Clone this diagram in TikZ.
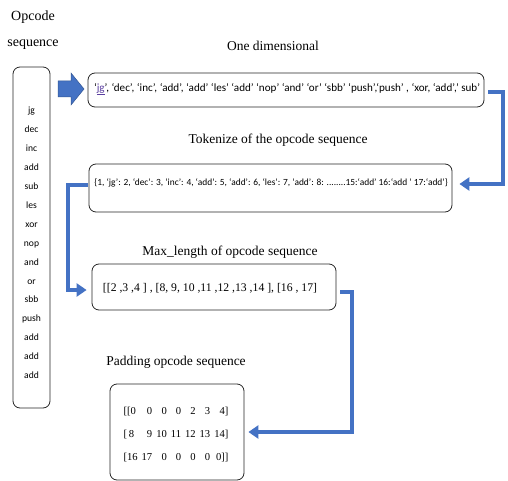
\documentclass[tikz,border=0pt]{standalone}
\usepackage{fontspec}
\setmainfont{Liberation Serif}
\newfontfamily\boxsans{Carlito}
\usetikzlibrary{arrows.meta}
\definecolor{myblue}{HTML}{4472C4}
\definecolor{jgcol}{HTML}{5B3FA0}
\begin{document}
\begin{tikzpicture}[x=1pt,y=-1pt,
  box/.style={draw=black!85, line width=0.8pt, rounded corners=7pt, inner sep=0pt},
  conn/.style={draw=myblue, line width=3.6pt, line join=miter, -{Triangle[length=10pt,width=13pt]}},
  ttl/.style={font=\fontsize{13.5}{15}\selectfont, inner sep=0pt},
  ctext/.style={font=\boxsans\fontsize{11.1}{13}\selectfont, inner sep=0pt},
  stext/.style={font=\fontsize{11.7}{14}\selectfont, inner sep=0pt},
  blockarrow/.style={fill=myblue, draw=myblue!75!black, line width=0.5pt, line join=miter}]
\useasboundingbox (0,0) rectangle (508,481);

% left column
\node[ttl, align=center, font=\fontsize{14}{26}\selectfont] (t0) at (33,30) {Opcode\\sequence};
\node[box, minimum width=37pt, minimum height=341pt] (b0) at (31.5,237.5) {};
\node[inner sep=0pt, align=center, font=\boxsans\fontsize{9.6}{18.9}\selectfont] (l0) at (31.5,243)
  {jg\\dec\\inc\\add\\sub\\les\\xor\\nop\\and\\or\\sbb\\push\\add\\add\\add};

% block arrow
\coordinate (ba) at (58,89);
\path[blockarrow] (ba) -- ++(0,-8) -- ++(13,0) -- ++(0,-8) -- ++(13,16) -- ++(-13,16) -- ++(0,-8) -- ++(-13,0) -- cycle;

% box 1
\node[ttl] (t1) at (273,46) {One dimensional};
\node[box, minimum width=396pt, minimum height=34pt] (b1) at (286,90) {};
\node[ctext] (x1) at (287,89) {‘\textcolor{jgcol}{\underline{jg}}’, ‘dec’, ‘inc’, ‘add’, ‘add’ ‘les’ ‘add’ ‘nop’ ‘and’ ‘or’ ‘sbb’ ‘push’,‘push’ , ‘xor, ‘add’,’ sub’};

% box 2
\node[ttl] (t2) at (278,140) {Tokenize of the opcode sequence};
\node[box, minimum width=363pt, minimum height=48pt] (b2) at (270.5,188) {};
\node[ctext, font=\boxsans\fontsize{9.4}{11}\selectfont] (x2) at (271,183) {\{1, ‘jg’: 2, ‘dec’: 3, ‘inc’: 4, ‘add’: 5, ‘add’: 6, ‘les’: 7, ‘add’: 8: ........15:‘add’ 16:‘add ’ 17:‘add’\}};

% box 3
\node[ttl] (t3) at (230,252) {Max\_length of opcode sequence};
\node[box, minimum width=244pt, minimum height=46pt] (b3) at (214,287) {};
\node[stext] (x3) at (210,288) {[[2 ,3 ,4 ] , [8, 9, 10 ,11 ,12 ,13 ,14 ], [16 , 17]};

% box 4
\node[ttl] (t4) at (176,362) {Padding opcode sequence};
\node[box, minimum width=134pt, minimum height=96pt] (b4) at (177,432) {};
\node[inner sep=0pt, font=\fontsize{10.6}{23}\selectfont] (x4) at (176,433) {%
  \setlength\tabcolsep{2pt}%
  \begin{tabular}{@{}l*{6}{r}@{}}
  {[[}0 & 0 & 0 & 0 & 2 & 3 & 4]\\
  {[}\,8 & 9 & 10 & 11 & 12 & 13 & 14]\\
  {[}16 & 17 & 0 & 0 & 0 & 0 & 0]]
  \end{tabular}};

% connectors
\coordinate (k1) at (503,0);
\coordinate (k2) at (68,0);
\coordinate (k3) at (352,0);
\coordinate (s1) at ([xshift=4pt,yshift=-2pt]b1.east);
\coordinate (e1) at ([xshift=7pt,yshift=4pt]b2.east);
\coordinate (s2) at ([xshift=-1pt,yshift=3pt]b2.west);
\coordinate (e2) at ([xshift=-5pt,yshift=-3pt]b3.west);
\coordinate (s3) at ([xshift=4pt,yshift=-5pt]b3.east);
\coordinate (e3) at ([xshift=4pt]b4.east);
\draw[conn] (s1) -- (k1 |- s1) -- (k1 |- e1) -- (e1);
\draw[conn] (s2) -- (k2 |- s2) -- (k2 |- e2) -- (e2);
\draw[conn] (s3) -- (k3 |- s3) -- (k3 |- e3) -- (e3);
\end{tikzpicture}
\end{document}
